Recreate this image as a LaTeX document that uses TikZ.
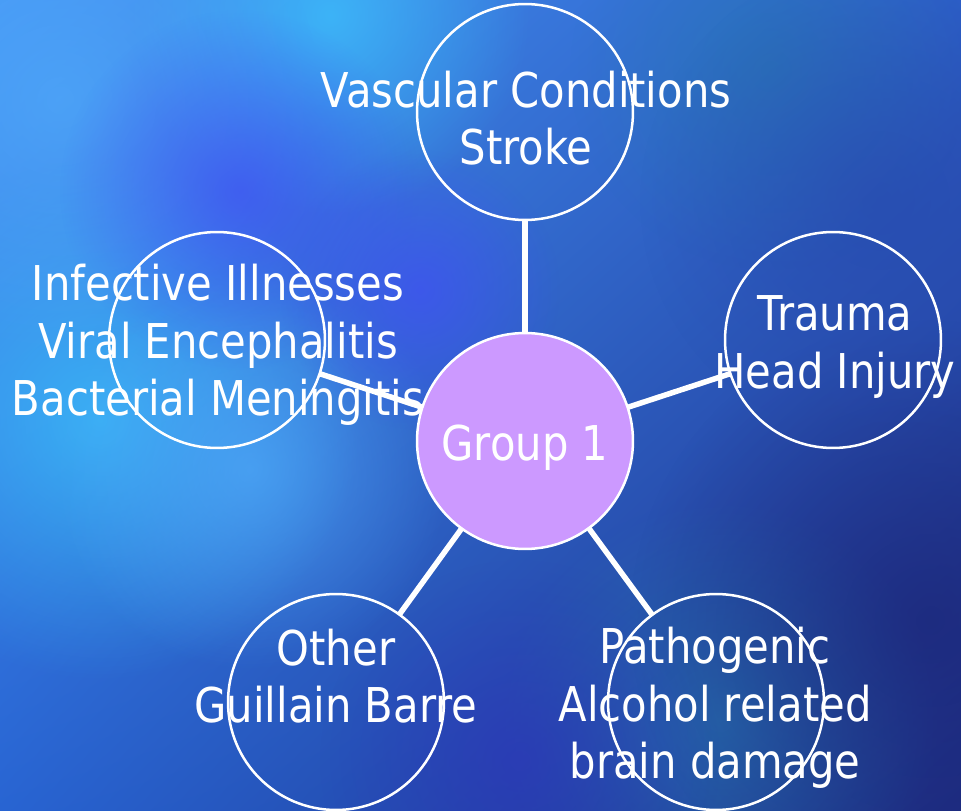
\documentclass[tikz,border=0pt]{standalone}
\usepackage{fontspec}
\setmainfont{DejaVu Sans}[FakeStretch=0.87]
\usetikzlibrary{positioning,fadings,shadings}

\definecolor{grpfill}{RGB}{204,153,255}
\definecolor{bgul}{RGB}{70,150,245}
\definecolor{bgur}{RGB}{45,95,200}
\definecolor{bgll}{RGB}{40,100,210}
\definecolor{bglr}{RGB}{30,45,130}
\definecolor{spotcyan}{RGB}{60,200,255}
\definecolor{spotsky}{RGB}{80,170,250}
\definecolor{spotviolet}{RGB}{65,80,245}
\definecolor{spotteal}{RGB}{40,120,180}
\definecolor{spotnavy}{RGB}{28,38,120}
\definecolor{spotmid}{RGB}{40,75,175}
\definecolor{spotdeep}{RGB}{45,55,185}
\tikzfading[name=spot, inner color=transparent!0, outer color=transparent!100]

\begin{document}
\begin{tikzpicture}[x=0.02cm,y=-0.02cm,
  bubble/.style={circle,draw=white,line width=0.05cm,minimum size=4.32cm,inner sep=0pt,outer sep=0pt},
  spoke/.style={draw=white,line width=0.11cm},
  lbl/.style={text=white,align=center,inner sep=0pt,font=\fontsize{27.3}{32.8}\selectfont}]
  % canvas in pixel units, y pointing down
  \useasboundingbox (0,0) rectangle (961,811);
  \shade[upper left=bgul, upper right=bgur, lower left=bgll, lower right=bglr]
    (0,0) rectangle (961,811);
  % soft patches of the backdrop: x/y/radius/colour
  \foreach \sx/\sy/\sr/\sc in {
     100/420/260/spotcyan, 330/15/200/spotcyan,
     60/100/260/spotsky, 250/470/200/spotsky,
     240/190/180/spotviolet, 420/290/140/spotviolet,
     770/70/200/spotteal, 720/720/220/spotteal,
     930/620/300/spotnavy, 880/200/240/spotmid,
     520/760/200/spotdeep}
    \fill[\sc, opacity=0.7, path fading=spot] (\sx,\sy) circle (\sr);

  % hub and satellites
  \node[bubble,fill=grpfill] (grp) at (525,441) {};
  \foreach \nm/\cx/\cy in {vasc/525/112, infect/217/340, trauma/833/340,
                           other/336/702, patho/716/702}{
    \node[bubble] (\nm) at (\cx,\cy) {};
    \draw[spoke] (grp) -- (\nm);
  }

  % labels sit on top of circles and spokes
  \node[lbl] (grplbl) at (525,448) {Group 1};
  \node[lbl] (vasclbl) at (526,118) {Vascular Conditions\\Stroke};
  \node[lbl] (infectlbl) at (218,345) {Infective Illnesses\\Viral Encephalitis\\Bacterial Meningitis};
  \node[lbl] (traumalbl) at (835,347) {Trauma\\Head Injury};
  \node[lbl] (otherlbl) at (336,676) {Other\\Guillain Barre};
  \node[lbl] (patholbl) at (715,708) {Pathogenic\\Alcohol related\\brain damage};
\end{tikzpicture}
\end{document}
